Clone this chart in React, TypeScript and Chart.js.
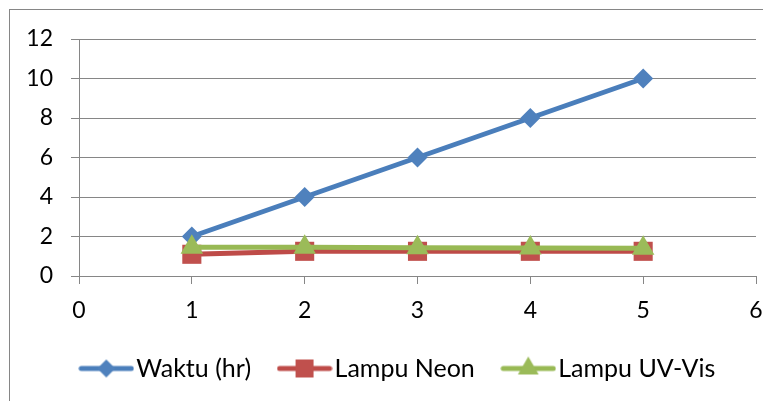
import { useEffect, useRef } from 'react';
import { Chart, registerables } from 'chart.js';

Chart.register(...registerables);

// Sample numbers on the x axis
const xValues = [1, 2, 3, 4, 5];
// Series values
const waktu = [2, 4, 6, 8, 10];
const lampuNeon = [1.1, 1.25, 1.25, 1.25, 1.25];
const lampuUvVis = [1.45, 1.45, 1.43, 1.42, 1.4];
const seriesNames = ['Waktu (hr)', 'Lampu Neon', 'Lampu UV-Vis'];
// Axis ranges
const xRange = [0, 6];
const yRange = [0, 12];

const FONT = 'Lato';
const GRID = '#868686';
const LEGEND_SHIFT = 24;

type Marker = 'diamond' | 'square' | 'triangle';

// Builds a small "line with marker" glyph for the legend
function legendGlyph(lineColor: string, fill: string, marker: Marker): HTMLCanvasElement {
  const c = document.createElement('canvas');
  c.width = 56;
  c.height = 26;
  const ctx = c.getContext('2d')!;
  const cx = 28, cy = 13;
  ctx.strokeStyle = lineColor;
  ctx.lineWidth = 5;
  ctx.lineCap = 'round';
  ctx.beginPath();
  ctx.moveTo(3, cy);
  ctx.lineTo(53, cy);
  ctx.stroke();
  ctx.fillStyle = fill;
  ctx.beginPath();
  if (marker === 'diamond') {
    const r = 9;
    ctx.moveTo(cx, cy - r);
    ctx.lineTo(cx + r, cy);
    ctx.lineTo(cx, cy + r);
    ctx.lineTo(cx - r, cy);
  } else if (marker === 'square') {
    const h = 9;
    ctx.rect(cx - h, cy - h, 2 * h, 2 * h);
  } else {
    const r = 12;
    ctx.moveTo(cx, cy - r);
    ctx.lineTo(cx + r * 0.866, cy + r * 0.5);
    ctx.lineTo(cx - r * 0.866, cy + r * 0.5);
  }
  ctx.closePath();
  ctx.fill();
  return c;
}

// Nudges the legend row to the right so it sits centred under the whole frame
const legendOffset = {
  id: 'legendOffset',
  afterLayout(chart: any) {
    if (chart.legend) {
      chart.legend.left += LEGEND_SHIFT;
      chart.legend.right += LEGEND_SHIFT;
    }
  },
};

export default function App() {
  const ref = useRef<HTMLCanvasElement>(null);

  useEffect(() => {
    const canvas = ref.current;
    if (!canvas) return;

    const series = [
      { label: seriesNames[0], values: waktu, line: '#4A7EBB', fill: '#4F81BD', style: 'rectRot', radius: 10, marker: 'diamond' as Marker, order: 2 },
      { label: seriesNames[1], values: lampuNeon, line: '#BE4B48', fill: '#C0504D', style: 'rect', radius: 13.5, marker: 'square' as Marker, order: 1 },
      { label: seriesNames[2], values: lampuUvVis, line: '#98B954', fill: '#9BBB59', style: 'triangle', radius: 13, marker: 'triangle' as Marker, order: 0 },
    ];
    const glyphs = series.map((s) => legendGlyph(s.line, s.fill, s.marker));

    const chart = new Chart(canvas, {
      type: 'line',
      data: {
        datasets: series.map((s) => ({
          label: s.label,
          data: xValues.map((x, i) => ({ x, y: s.values[i] })),
          borderColor: s.line,
          backgroundColor: s.fill,
          borderWidth: 5,
          pointStyle: s.style as any,
          pointRadius: s.radius,
          pointHoverRadius: s.radius,
          pointBackgroundColor: s.fill,
          pointBorderColor: s.fill,
          pointBorderWidth: 0,
          tension: 0,
          order: s.order,
        })),
      },
      options: {
        animation: false,
        responsive: false,
        events: [],
        layout: { padding: { top: 39, right: 48, bottom: 10, left: 0 } },
        scales: {
          x: {
            type: 'linear',
            min: xRange[0],
            max: xRange[1],
            ticks: { stepSize: 1, color: '#000', font: { family: FONT, size: 23 }, padding: 13, maxRotation: 0 },
            grid: { drawOnChartArea: false, drawTicks: true, tickLength: 8, color: GRID, lineWidth: 1 },
            border: { display: true, color: GRID, width: 1 },
            afterFit: (s: any) => { s.height = 44; },
          },
          y: {
            type: 'linear',
            min: yRange[0],
            max: yRange[1],
            ticks: { stepSize: 2, color: '#000', font: { family: FONT, size: 23 }, padding: 18 },
            grid: { color: GRID, lineWidth: 1, tickLength: 8 },
            border: { display: true, color: GRID, width: 1 },
            afterFit: (s: any) => { s.width = 79; },
          },
        },
        plugins: {
          tooltip: { enabled: false },
          legend: {
            position: 'bottom',
            labels: {
              color: '#000',
              font: { family: FONT, size: 25 },
              usePointStyle: true,
              pointStyleWidth: 35,
              padding: 36,
              sort: (a: any, b: any) => a.datasetIndex - b.datasetIndex,
              generateLabels: (c: any) =>
                c.data.datasets.map((d: any, i: number) => ({
                  text: d.label,
                  datasetIndex: i,
                  pointStyle: glyphs[i],
                  fillStyle: d.backgroundColor,
                  strokeStyle: d.borderColor,
                  lineWidth: 0,
                  fontColor: '#000',
                  hidden: false,
                })),
            },
          },
        },
      },
      plugins: [legendOffset],
    });

    return () => chart.destroy();
  }, []);

  return (
    <div style={{ position: 'fixed', left: 0, top: 0, width: 763, height: 401, overflow: 'hidden', background: '#fff' }}>
      <div
        style={{
          position: 'absolute',
          left: 9,
          top: 9,
          width: 820,
          height: 460,
          border: `1px solid ${GRID}`,
          boxSizing: 'border-box',
        }}
      />
      <canvas ref={ref} width={804} height={401} style={{ position: 'absolute', left: 0, top: 0, width: 804, height: 401 }} />
    </div>
  );
}
